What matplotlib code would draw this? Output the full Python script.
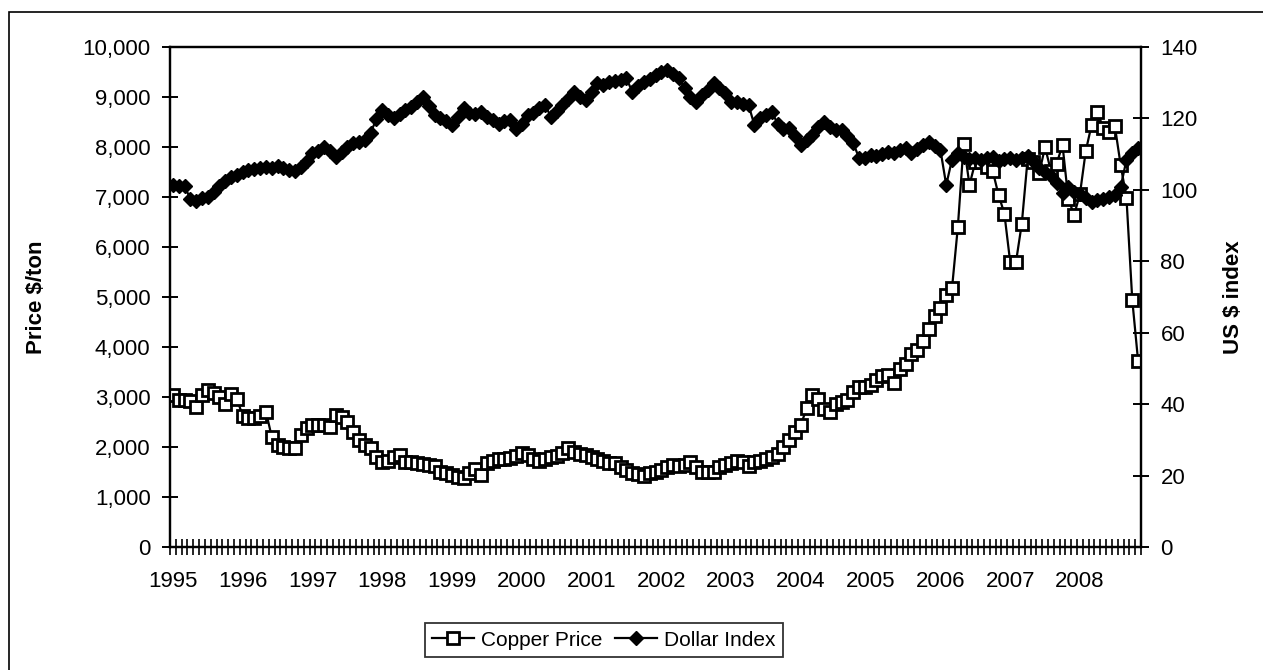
import numpy as np
import matplotlib
matplotlib.use("Agg")
import matplotlib.pyplot as plt
from matplotlib.lines import Line2D
from matplotlib.patches import Rectangle

plt.rcParams['font.family'] = ['Liberation Sans', 'DejaVu Sans']

# monthly data, Jan 1995 - Nov 2008
years = [str(y) for y in range(1995, 2009)]

copper = [
    # 1995
    3040, 2940, 2940, 2930, 2800, 3040, 3140, 3080, 3000, 2870, 3060, 2970,
    # 1996
    2620, 2580, 2580, 2620, 2710, 2200, 2040, 2000, 1980, 1980, 2240, 2380,
    # 1997
    2440, 2440, 2440, 2400, 2640, 2600, 2500, 2300, 2140, 2050, 1980, 1800,
    # 1998
    1700, 1720, 1800, 1840, 1700, 1700, 1680, 1660, 1640, 1620, 1500, 1480,
    # 1999
    1440, 1410, 1390, 1480, 1560, 1450, 1680, 1720, 1770, 1760, 1780, 1820,
    # 2000
    1880, 1840, 1760, 1720, 1760, 1800, 1830, 1880, 1980, 1900, 1860, 1840,
    # 2001
    1800, 1760, 1720, 1680, 1680, 1600, 1540, 1490, 1460, 1420, 1480, 1500,
    # 2002
    1540, 1600, 1640, 1620, 1650, 1700, 1600, 1500, 1500, 1500, 1600, 1640,
    # 2003
    1680, 1720, 1700, 1620, 1700, 1730, 1760, 1800, 1860, 2000, 2140, 2300,
    # 2004
    2440, 2780, 3040, 2970, 2760, 2700, 2860, 2900, 2940, 3100, 3200, 3200,
    # 2005
    3250, 3350, 3420, 3440, 3280, 3560, 3660, 3860, 3940, 4120, 4360, 4620,
    # 2006
    4780, 5040, 5180, 6400, 8070, 7240, 7700, 7700, 7600, 7520, 7040, 6670,
    # 2007
    5700, 5700, 6470, 7760, 7700, 7480, 8000, 7520, 7670, 8040, 6960, 6640,
    # 2008
    7060, 7920, 8440, 8700, 8380, 8300, 8420, 7640, 6980, 4940, 3720,
]

dollar = [
    # 1995
    101.5, 101.0, 101.0, 97.5, 97.0, 97.8, 98.0, 99.5, 101.0, 102.5, 103.5, 104.2,
    # 1996
    105.0, 105.5, 105.8, 106.2, 106.5, 106.0, 106.6, 106.0, 105.6, 105.2, 106.3, 108.2,
    # 1997
    110.2, 111.0, 112.1, 111.0, 109.3, 110.5, 112.0, 113.1, 113.5, 114.0, 116.0, 119.8,
    # 1998
    122.4, 121.0, 120.1, 121.2, 122.5, 123.3, 124.5, 126.1, 123.5, 121.0, 120.2, 119.2,
    # 1999
    118.2, 120.5, 122.9, 121.5, 121.2, 121.9, 120.5, 119.5, 118.5, 119.2, 119.6, 117.0,
    # 2000
    118.5, 121.0, 121.5, 123.0, 123.8, 120.5, 122.0, 123.8, 125.5, 127.5, 126.0, 125.2,
    # 2001
    127.5, 129.8, 129.5, 130.2, 130.5, 130.8, 131.2, 127.5, 129.0, 130.3, 131.0, 132.2,
    # 2002
    133.0, 133.6, 132.5, 131.2, 128.5, 126.0, 124.7, 126.5, 128.0, 129.8, 128.5, 127.0,
    # 2003
    124.7, 124.5, 124.0, 123.8, 118.2, 120.0, 121.0, 121.9, 118.5, 117.0, 117.3, 115.0,
    # 2004
    112.6, 114.0, 115.5, 117.5, 119.1, 117.5, 116.8, 116.8, 115.0, 113.1, 109.0, 108.9,
    # 2005
    109.8, 109.5, 110.0, 110.7, 110.3, 111.2, 111.7, 110.3, 111.5, 112.5, 113.5, 112.2,
    # 2006
    111.2, 101.4, 108.5, 110.3, 109.2, 108.6, 109.0, 108.4, 108.8, 109.2, 108.2, 108.6,
    # 2007
    109.0, 108.4, 108.8, 109.5, 108.0, 106.0, 105.0, 104.0, 102.0, 99.1, 100.8, 99.5,
    # 2008
    98.8, 97.8, 96.6, 97.2, 97.5, 98.0, 98.6, 100.8, 108.4, 110.2, 111.7,
]

x = np.arange(len(copper))

fig = plt.figure(figsize=(12.63, 6.70), dpi=100)
ax = fig.add_axes([170 / 1263, 1 - 547 / 670, (1141 - 170) / 1263, 500 / 670])
ax2 = ax.twinx()

# outer chart border
fig.patches.append(Rectangle((9 / 1263, -0.01), 1.1, 1 - 12 / 670 + 0.01,
                             transform=fig.transFigure, fill=False,
                             edgecolor='black', linewidth=1.2))

ax.plot(x, copper, color='black', linewidth=1.6, marker='s', markersize=8.5,
        markerfacecolor='white', markeredgecolor='black', markeredgewidth=2,
        zorder=3)
ax2.plot(x, dollar, color='black', linewidth=1.6, marker='D', markersize=7.5,
         markerfacecolor='black', markeredgecolor='black', zorder=3)

ax.set_xlim(-0.5, len(x) - 0.5)
ax.set_ylim(0, 10000)
ax2.set_ylim(0, 140)

ax.set_yticks(np.arange(0, 10001, 1000))
ax.set_yticklabels([f"{v:,}" for v in range(0, 10001, 1000)])
ax2.set_yticks(np.arange(0, 141, 20))

ax.set_xticks(np.arange(0, len(x), 12))
ax.set_xticklabels(years)
ax.set_xticks(np.arange(-0.5, len(x), 1), minor=True)
ax.tick_params(axis='x', which='major', length=0, pad=17, labelsize=16)
ax.tick_params(axis='x', which='minor', direction='inout', length=11, width=1.2)
ax.tick_params(axis='y', direction='inout', length=12, width=1.4, labelsize=16, pad=8)
ax2.tick_params(axis='y', direction='inout', length=12, width=1.4, labelsize=16, pad=8)

for a in (ax, ax2):
    for s in a.spines.values():
        s.set_linewidth(1.6)

ax.set_ylabel("Price $/ton", fontsize=16, fontweight='bold')
ax2.set_ylabel("US $ index", fontsize=16, fontweight='bold', rotation=90)
ax.yaxis.set_label_coords(-123 / 971, 0.5)
ax2.yaxis.set_label_coords(1 + 82 / 971, 0.5)

handles = [
    Line2D([], [], color='black', linewidth=1.6, marker='s', markersize=8,
           markerfacecolor='white', markeredgecolor='black', markeredgewidth=2),
    Line2D([], [], color='black', linewidth=1.6, marker='D', markersize=7,
           markerfacecolor='black'),
]
leg = fig.legend(handles, ["Copper Price", "Dollar Index"], loc='center',
                 bbox_to_anchor=(604 / 1263, 1 - 640 / 670), ncol=2,
                 frameon=True, fancybox=False, edgecolor='black', fontsize=15,
                 handlelength=2.0, handletextpad=0.35, columnspacing=0.6,
                 borderpad=0.35)
leg.get_frame().set_linewidth(1.3)

fig.savefig("out.png", dpi=100)
